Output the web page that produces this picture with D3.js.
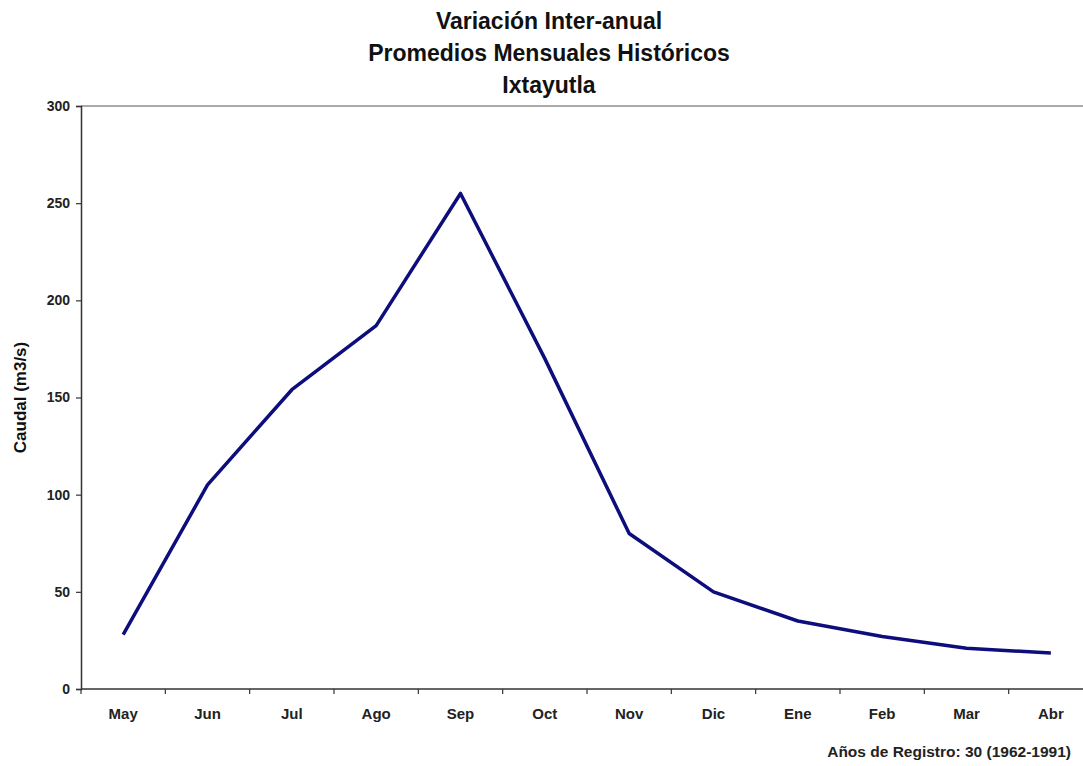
<!DOCTYPE html>
<html>
<head>
<meta charset="utf-8">
<script src="https://cdn.jsdelivr.net/npm/d3@7"></script>
<style>
  html, body { margin: 0; padding: 0; background: #fff; }
  svg { display: block; font-family: "Liberation Sans", Arial, sans-serif; }
</style>
</head>
<body>
<svg id="chart" width="1083" height="766"></svg>
<script>
const months = ["May","Jun","Jul","Ago","Sep","Oct","Nov","Dic","Ene","Feb","Mar","Abr"];
const caudal = [28, 105, 154, 187, 255, 170, 80, 50, 35, 27, 21, 18.5];
const yTicks = [0, 50, 100, 150, 200, 250, 300];
const titleLines = ["Variación Inter-anual", "Promedios Mensuales Históricos", "Ixtayutla"];
const yLabel = "Caudal (m3/s)";
const footer = "Años de Registro: 30 (1962-1991)";

const svg = d3.select("#chart");
const m = { left: 81, right: 1093, top: 106, bottom: 689 };
const FF = "Liberation Sans, Arial, sans-serif";

const x = d3.scaleBand().domain(months).range([m.left, m.right]).padding(0);
const y = d3.scaleLinear().domain([0, 300]).range([m.bottom, m.top]);

// title
svg.append("g").selectAll("text").data(titleLines).join("text")
  .attr("x", 549).attr("y", (d, i) => 29 + i * 32)
  .attr("text-anchor", "middle")
  .attr("font-size", 23).attr("font-weight", "bold").attr("fill", "#111")
  .text(d => d);

// top border
svg.append("line")
  .attr("x1", m.left).attr("x2", 1083)
  .attr("y1", y(300)).attr("y2", y(300))
  .attr("stroke", "#aaa").attr("stroke-width", 2);

// y axis
const yAxis = svg.append("g").attr("transform", `translate(${m.left},0)`)
  .call(d3.axisLeft(y).tickValues(yTicks).tickSize(5).tickPadding(6));
yAxis.select(".domain").attr("stroke", "#333").attr("stroke-width", 1.5);
yAxis.selectAll(".tick line").attr("stroke", "#333").attr("stroke-width", 1.2);
yAxis.selectAll("text").attr("font-size", 14).attr("font-weight", "bold")
  .attr("fill", "#222").attr("font-family", FF);

// x axis
const xAxis = svg.append("g").attr("transform", `translate(0,${m.bottom})`)
  .call(d3.axisBottom(x).tickSize(0).tickPadding(19));
xAxis.select(".domain").remove();
svg.append("line").attr("x1", m.left).attr("x2", 1083)
  .attr("y1", m.bottom).attr("y2", m.bottom)
  .attr("stroke", "#333").attr("stroke-width", 1.5);
const boundaries = months.map(d => x(d)).concat([x.range()[1]]);
svg.append("g").selectAll("line").data(boundaries).join("line")
  .attr("x1", d => d).attr("x2", d => d)
  .attr("y1", m.bottom).attr("y2", m.bottom + 5)
  .attr("stroke", "#333").attr("stroke-width", 1.2);
xAxis.selectAll("text").attr("font-size", 15).attr("font-weight", "bold")
  .attr("fill", "#222").attr("font-family", FF);

// y label
svg.append("text")
  .attr("transform", `translate(26,${(m.top + m.bottom) / 2}) rotate(-90)`)
  .attr("text-anchor", "middle")
  .attr("font-size", 17).attr("font-weight", "bold").attr("fill", "#111")
  .text(yLabel);

// line
const line = d3.line()
  .x((d, i) => x(months[i]) + x.bandwidth() / 2)
  .y(d => y(d));
svg.append("path").datum(caudal)
  .attr("d", line)
  .attr("fill", "none").attr("stroke", "#0d0d7c").attr("stroke-width", 3.5)
  .attr("stroke-linejoin", "round");

// footer
svg.append("text")
  .attr("x", 1071).attr("y", 757)
  .attr("text-anchor", "end")
  .attr("font-size", 15.5).attr("font-weight", "bold").attr("fill", "#222")
  .text(footer);
</script>
</body>
</html>
